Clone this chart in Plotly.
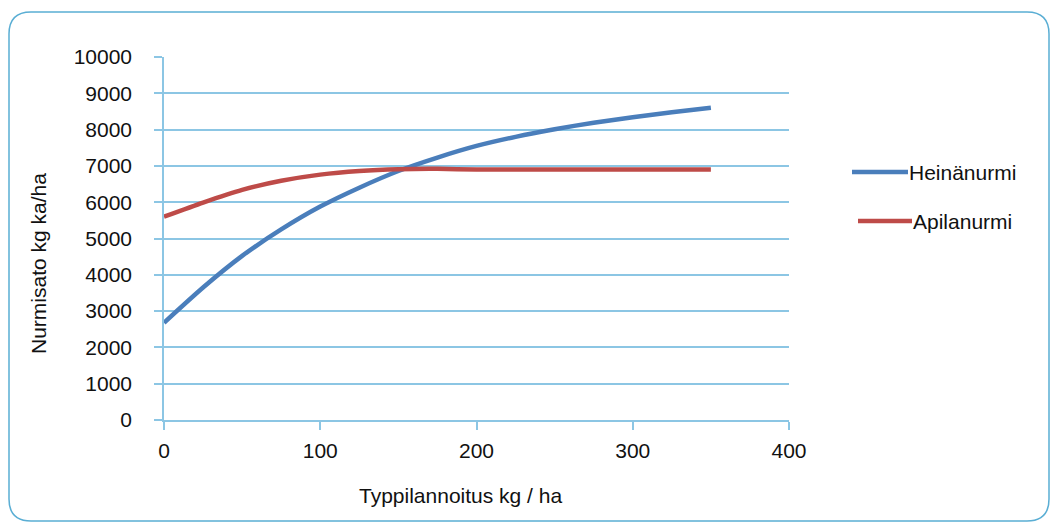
import plotly.graph_objects as go

# Nitrogen fertilisation (kg/ha) and ley yield (kg DM/ha)
typpi = [0, 25, 50, 75, 100, 125, 150, 175, 200, 225, 250, 275, 300, 325, 350]
heinanurmi = [2680, 3650, 4520, 5250, 5880, 6400, 6860, 7230, 7550, 7800, 8010, 8190, 8340, 8480, 8600]
apilanurmi = [5600, 5990, 6340, 6590, 6760, 6860, 6910, 6920, 6900, 6900, 6900, 6900, 6900, 6900, 6900]

y_ticks = list(range(0, 10001, 1000))
y_tick_labels = [str(v) for v in y_ticks]
x_ticks = [0, 100, 200, 300, 400]

x_title = "Typpilannoitus kg / ha"
y_title = "Nurmisato kg ka/ha"

series = [
    ("Heinänurmi", heinanurmi, "#4a7ebb"),
    ("Apilanurmi", apilanurmi, "#be4b48"),
]

W, H = 1053, 524
L, R, T, B = 164, 789, 57, 420  # plot area in pixels
FONT = "Liberation Sans, Arial, sans-serif"
TXT = "#111111"
GRID = "#8cc6e4"
FRAME = "#5aaed4"


def px(xp):
    return (xp - L) / (R - L)


def py(yp):
    return (B - yp) / (B - T)


fig = go.Figure()
for name, vals, col in series:
    fig.add_trace(go.Scatter(
        x=typpi, y=vals, name=name, mode="lines",
        line=dict(color=col, width=4.5, shape="spline", smoothing=0.6),
        showlegend=False,
    ))

# legend drawn beside the plot
legend_rows = [(852, 908, 172), (858, 912, 221)]
for (name, vals, col), (x0, x1, yy) in zip(series, legend_rows):
    fig.add_shape(type="line", xref="paper", yref="paper",
                  x0=px(x0), x1=px(x1), y0=py(yy), y1=py(yy),
                  line=dict(color=col, width=4.5))
    fig.add_annotation(xref="paper", yref="paper", x=px(x1 - 1), y=py(yy),
                       text=name, showarrow=False, xanchor="left", yanchor="middle",
                       font=dict(family=FONT, size=21, color=TXT))

# axis titles
fig.add_annotation(xref="paper", yref="paper", x=px(460), y=py(496),
                   text=x_title, showarrow=False, xanchor="center", yanchor="middle",
                   font=dict(family=FONT, size=21, color=TXT))
fig.add_annotation(xref="paper", yref="paper", x=px(38), y=py(264),
                   text=y_title, showarrow=False, textangle=-90,
                   xanchor="center", yanchor="middle",
                   font=dict(family=FONT, size=21, color=TXT))

# rounded outer frame
fl, ft, fr, fb, r = 9, 12, 1049, 521, 22
path = (
    f"M {px(fl)},{py(ft + r)} Q {px(fl)},{py(ft)} {px(fl + r)},{py(ft)} "
    f"L {px(fr - r)},{py(ft)} Q {px(fr)},{py(ft)} {px(fr)},{py(ft + r)} "
    f"L {px(fr)},{py(fb - r)} Q {px(fr)},{py(fb)} {px(fr - r)},{py(fb)} "
    f"L {px(fl + r)},{py(fb)} Q {px(fl)},{py(fb)} {px(fl)},{py(fb - r)} Z"
)
fig.add_shape(type="path", xref="paper", yref="paper", path=path,
              line=dict(color=FRAME, width=1.5), layer="below")

fig.update_layout(
    width=W, height=H,
    margin=dict(l=L, r=W - R, t=T, b=H - B, pad=0),
    paper_bgcolor="white", plot_bgcolor="white",
    font=dict(family=FONT, size=21, color=TXT),
    xaxis=dict(
        range=[0, 400], tickvals=x_ticks,
        showgrid=False, zeroline=False,
        showline=True, linecolor=GRID, linewidth=1.5,
        ticks="outside", ticklen=8, tickcolor=GRID, tickwidth=1.5,
        ticklabelstandoff=3,
    ),
    yaxis=dict(
        range=[0, 10000], tickvals=y_ticks, ticktext=y_tick_labels,
        showgrid=True, gridcolor=GRID, gridwidth=1.5, zeroline=False,
        showline=True, linecolor=GRID, linewidth=1.5,
        ticks="outside", ticklen=8, tickcolor=GRID, tickwidth=1.5,
        ticklabelstandoff=18,
    ),
)

fig.write_html("out.html")
